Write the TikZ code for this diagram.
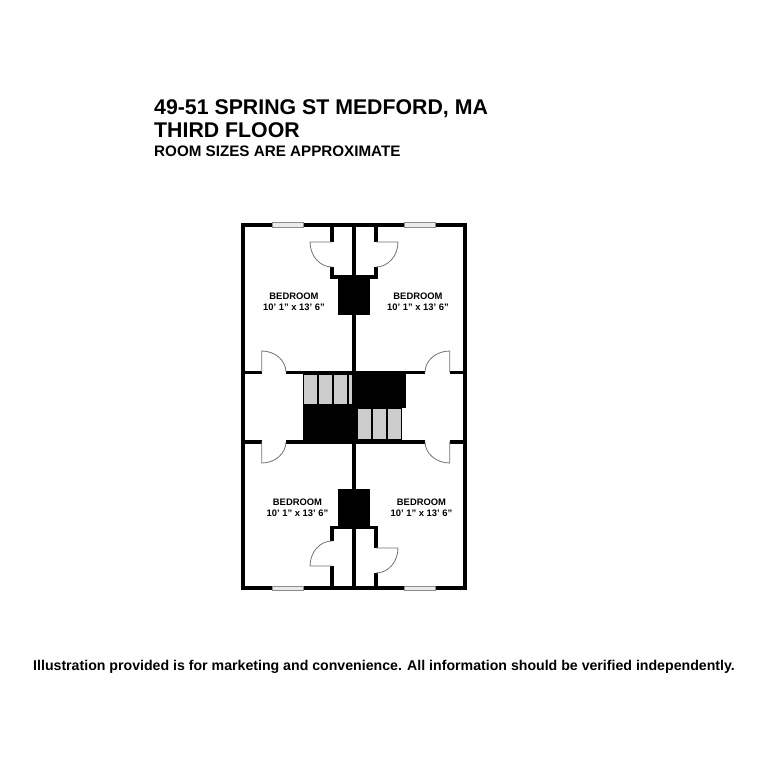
\documentclass[tikz,border=0pt]{standalone}
\usepackage{fontspec}
\setmainfont{Liberation Sans}
\tikzset{
  wall/.style={line width=3.6pt,line cap=butt,line join=miter,black},
  swing/.style={line width=0.8pt,draw=black!55},
  tread/.style={fill=black!20,draw=none},
  solid block/.style={fill=black,draw=none},
  windowpane/.style={fill=black!8,draw=black!45,line width=0.7pt},
  roomlabel/.style={font=\bfseries\fontsize{9.4}{11}\selectfont,align=center,inner sep=0pt},
  titlelabel/.style={anchor=base west,inner sep=0pt}
}
\begin{document}
\begin{tikzpicture}[x=1pt,y=-1pt]
\useasboundingbox (0,0) rectangle (768,768);
\fill[white] (0,0) rectangle (768,768);
% text
\node[titlelabel,font=\bfseries\fontsize{21.3}{24}\selectfont] (t1) at (154,114.5) {49-51 SPRING ST MEDFORD, MA};
\node[titlelabel,font=\bfseries\fontsize{21.3}{24}\selectfont] (t2) at (154,137.5) {THIRD FLOOR};
\node[titlelabel,font=\bfseries\fontsize{15.2}{18}\selectfont] (t3) at (154,156.5) {ROOM SIZES ARE APPROXIMATE};
\node[inner sep=0pt,font=\bfseries\fontsize{14.15}{18}\selectfont] (foot) at (384,666.5) {Illustration provided is for marketing and convenience. All information should be verified independently.};
% solid blocks
\fill[solid block] (338,278) rectangle (370,315);
\fill[solid block] (338,489) rectangle (370,527);
\fill[solid block] (302.7,373) rectangle (354,441);
\fill[solid block] (354,373) rectangle (405.7,408);
\fill[solid block] (354,408) rectangle (401.8,441);
% treads
\fill[tread] (304,374.7) rectangle (317,404);
\fill[tread] (319,374.7) rectangle (332,404);
\fill[tread] (334,374.7) rectangle (347,404);
\fill[tread] (349,374.7) rectangle (352,404);
\fill[tread] (357.5,408.5) rectangle (370.5,438.5);
\fill[tread] (372.5,408.5) rectangle (385.5,438.5);
\fill[tread] (387.5,408.5) rectangle (400.5,438.5);
% walls
\draw[wall] (243,225) rectangle (465,588);
\draw[wall] (354,225) -- (354,588);
\draw[wall] (243,372.3) -- (261.7,372.3) (286,372.3) -- (425,372.3) (449.7,372.3) -- (465,372.3);
\draw[wall] (243,441.7) -- (261.7,441.7) (286,441.7) -- (425,441.7) (449.7,441.7) -- (465,441.7);
\draw[wall] (332,225) -- (332,242) (332,267) -- (332,277) -- (376,277) -- (376,267) (376,242) -- (376,225);
\draw[wall] (332,588) -- (332,566) (332,541) -- (332,527.3) -- (376,527.3) -- (376,548) (376,572.7) -- (376,588);
% door swings
\draw[swing] (332,242) -- (310,242) arc[start angle=180,end angle=270,x radius=22,y radius=-25];
\draw[swing] (376,242) -- (398,242) arc[start angle=0,end angle=-90,x radius=22,y radius=-25];
\draw[swing] (332,566) -- (310,566) arc[start angle=180,end angle=90,x radius=22,y radius=-25];
\draw[swing] (376,548) -- (398,548) arc[start angle=0,end angle=-90,x radius=22,y radius=-25];
\draw[swing] (261.7,372.3) -- (261.7,351) arc[start angle=90,end angle=0,x radius=24.3,y radius=-21.3];
\draw[swing] (449.7,372.3) -- (449.7,351) arc[start angle=90,end angle=180,x radius=24.7,y radius=-21.3];
\draw[swing] (261.7,441.7) -- (261.7,463) arc[start angle=-90,end angle=0,x radius=24.3,y radius=-21.3];
\draw[swing] (449.7,441.7) -- (449.7,463) arc[start angle=-90,end angle=-180,x radius=24.7,y radius=-21.3];
% windows
\draw[windowpane] (272.7,222.7) rectangle (303.7,227.5);
\draw[windowpane] (404.3,222.7) rectangle (435.3,227.5);
\draw[windowpane] (272.7,586) rectangle (303.7,590.8);
\draw[windowpane] (404.3,586) rectangle (435.3,590.8);
% rooms
\node[roomlabel] (r1) at (294,302) {BEDROOM\\10' 1" x 13' 6"};
\node[roomlabel] (r2) at (418,302) {BEDROOM\\10' 1" x 13' 6"};
\node[roomlabel] (r3) at (297.5,508) {BEDROOM\\10' 1" x 13' 6"};
\node[roomlabel] (r4) at (421.5,508) {BEDROOM\\10' 1" x 13' 6"};
\end{tikzpicture}
\end{document}
